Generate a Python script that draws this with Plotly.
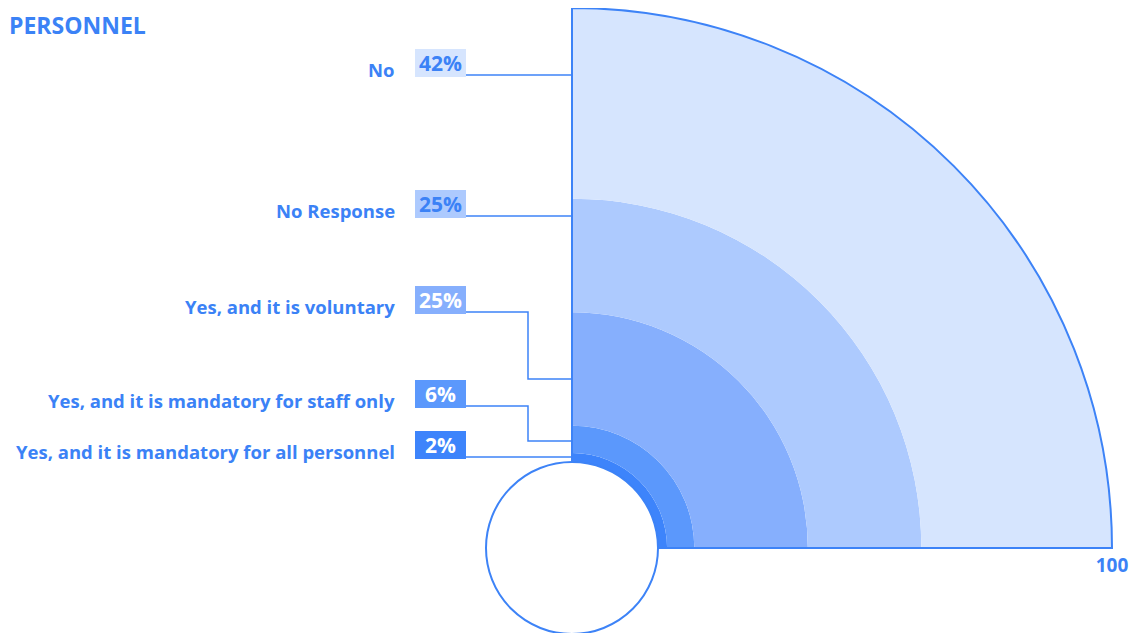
import plotly.graph_objects as go

W, H = 1142, 633
OFF = 8  # page body margin in the browser

# data, innermost ring first
categories = [
    "Yes, and it is mandatory for all personnel",
    "Yes, and it is mandatory for staff only",
    "Yes, and it is voluntary",
    "No Response",
    "No",
]
values = [2, 6, 25, 25, 42]
pct_labels = ["2%", "6%", "25%", "25%", "42%"]
colors = ["#3d84fb", "#5b98fc", "#86affd", "#adcafe", "#d6e5fe"]
pct_text_colors = ["white", "white", "white", "#3b82f6", "#3b82f6"]

BLUE = "#3b82f6"
LINE = "#3d83f7"
FONT = "Open Sans"

# layout of the quarter (page pixels)
cx, cy, R = 572, 548, 540
hole_px = 86

# label rows: y where the connector leaves the box, y where it meets the axis
conn_y = [457, 406, 312, 216, 75]
target_y = [457, 441, 379, 216, 75]


def px(x):
    return (x - OFF) / W


def py(y):
    return 1 - (y - OFF) / H


fig = go.Figure()

for cat, v, c in zip(categories, values, colors):
    fig.add_trace(go.Barpolar(
        r=[v], theta=[45], width=[90],
        marker=dict(color=c, line=dict(width=0)),
        name=cat, hoverinfo="name",
    ))

# left edge of the quarter
fig.add_trace(go.Scatterpolar(
    r=[0, 100], theta=[90, 90], mode="lines",
    line=dict(color=LINE, width=2), hoverinfo="skip",
))

shapes = []
annotations = []

# hole circle
shapes.append(dict(
    type="circle", xref="paper", yref="paper",
    x0=px(cx - hole_px), x1=px(cx + hole_px),
    y0=py(cy + hole_px), y1=py(cy - hole_px),
    fillcolor="white", line=dict(color=LINE, width=2), layer="above",
))

box_x0, box_x1, elbow_x = 415, 466, 528
for cat, pl, c, tc, yc, yt in zip(categories, pct_labels, colors,
                                  pct_text_colors, conn_y, target_y):
    if yc == yt:
        path = f"M {px(box_x1)},{py(yc)} L {px(cx)},{py(yc)}"
    else:
        path = (f"M {px(box_x1)},{py(yc)} L {px(elbow_x)},{py(yc)} "
                f"L {px(elbow_x)},{py(yt)} L {px(cx)},{py(yt)}")
    shapes.append(dict(type="path", xref="paper", yref="paper", path=path,
                       line=dict(color=LINE, width=1.5)))
    shapes.append(dict(type="rect", xref="paper", yref="paper",
                       x0=px(box_x0), x1=px(box_x1),
                       y0=py(yc + 2), y1=py(yc - 26),
                       fillcolor=c, line=dict(width=0)))
    annotations.append(dict(
        x=px((box_x0 + box_x1) / 2), y=py(yc - 12), xref="paper", yref="paper",
        text=f"<b>{pl}</b>", showarrow=False, xanchor="center", yanchor="middle",
        font=dict(family=FONT, size=21, color=tc),
    ))
    annotations.append(dict(
        x=px(397), y=py(yc - 6), xref="paper", yref="paper",
        text=f"<b>{cat}</b>", showarrow=False, xanchor="right", yanchor="middle",
        font=dict(family=FONT, size=18.5, color=BLUE),
    ))

annotations.append(dict(
    x=0, y=1, xref="paper", yref="paper", text="<b>PERSONNEL</b>",
    showarrow=False, xanchor="left", yanchor="top", borderpad=0,
    font=dict(family=FONT, size=23, color=BLUE),
))

fig.update_layout(
    width=W, height=H,
    margin=dict(l=0, r=0, t=0, b=0),
    paper_bgcolor="white",
    showlegend=False,
    shapes=shapes,
    annotations=annotations,
    polar=dict(
        domain=dict(x=[px(cx), px(cx + R)], y=[py(cy), py(cy - R)]),
        sector=[0, 90],
        hole=hole_px / R,
        bgcolor="white",
        barmode="stack",
        radialaxis=dict(
            range=[0, 100], angle=0, tickvals=[100], ticktext=["100"],
            showline=True, linecolor=LINE, linewidth=2, showgrid=False,
            ticks="", tickfont=dict(family=FONT, size=19, color=BLUE, weight="bold"),
        ),
        angularaxis=dict(
            rotation=0, direction="counterclockwise",
            showline=True, linecolor=LINE, linewidth=2,
            showgrid=False, showticklabels=False, ticks="",
        ),
    ),
)

fig.write_html("out.html")
